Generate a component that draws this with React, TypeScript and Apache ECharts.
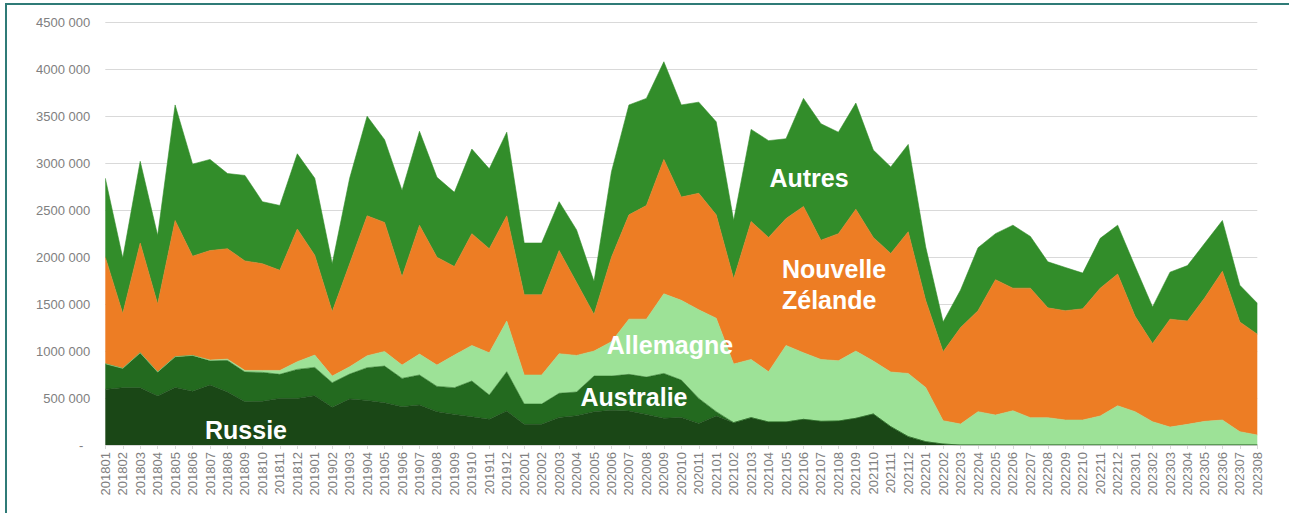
import React, { useEffect, useRef } from "react";
import * as echarts from "echarts";

const months = [
  "201801", "201802", "201803", "201804", "201805", "201806", "201807", "201808", "201809", "201810", "201811", "201812",
  "201901", "201902", "201903", "201904", "201905", "201906", "201907", "201908", "201909", "201910", "201911", "201912",
  "202001", "202002", "202003", "202004", "202005", "202006", "202007", "202008", "202009", "202010", "202011",
  "202101", "202102", "202103", "202104", "202105", "202106", "202107", "202108", "202109", "202110", "202111", "202112",
  "202201", "202202", "202203", "202204", "202205", "202206", "202207", "202208", "202209", "202210", "202211", "202212",
  "202301", "202302", "202303", "202304", "202305", "202306", "202307", "202308",
];

const russie = [
  592000, 610000, 610000, 521000, 613000, 571000, 638000, 564000, 461000, 465000, 496000, 496000,
  525000, 401000, 489000, 475000, 450000, 408000, 426000, 355000, 326000, 301000, 273000, 362000,
  220000, 220000, 294000, 312000, 355000, 369000, 362000, 326000, 284000, 294000, 230000,
  308000, 238000, 291000, 245000, 245000, 273000, 252000, 255000, 284000, 330000, 195000, 89000,
  35000, 10000, 0, 0, 0, 0, 0, 0, 0, 0, 0, 0,
  0, 0, 0, 0, 0, 0, 0, 0,
];

const australie = [
  273000, 206000, 372000, 256000, 327000, 383000, 259000, 336000, 316000, 308000, 256000, 309000,
  301000, 262000, 266000, 348000, 390000, 301000, 319000, 269000, 284000, 380000, 259000, 418000,
  216000, 216000, 256000, 252000, 379000, 365000, 390000, 397000, 478000, 397000, 266000,
  47000, 0, 0, 0, 0, 0, 0, 0, 0, 0, 0, 0,
  0, 0, 0, 0, 0, 0, 0, 0, 0, 0, 0, 0,
  0, 0, 0, 0, 0, 0, 0, 0,
];

const allemagne = [
  0, 0, 0, 0, 0, 0, 7000, 14000, 17000, 21000, 42000, 82000,
  131000, 71000, 78000, 127000, 156000, 142000, 223000, 227000, 347000, 379000, 450000, 540000,
  309000, 309000, 422000, 390000, 266000, 366000, 588000, 617000, 848000, 849000, 944000,
  995000, 624000, 620000, 535000, 815000, 709000, 659000, 642000, 716000, 564000, 582000, 673000,
  578000, 249000, 223000, 355000, 319000, 365000, 291000, 291000, 266000, 266000, 309000, 418000,
  355000, 248000, 191000, 220000, 252000, 266000, 142000, 106000,
];

const nouvelleZelande = [
  1135000, 584000, 1168000, 723000, 1450000, 1056000, 1166000, 1176000, 1166000, 1136000, 1066000, 1413000,
  1063000, 686000, 1097000, 1490000, 1374000, 939000, 1372000, 1149000, 943000, 1190000, 1108000, 1120000,
  855000, 855000, 1098000, 776000, 390000, 900000, 1110000, 1210000, 1430000, 1100000, 1240000,
  1100000, 908000, 1469000, 1430000, 1350000, 1558000, 1269000, 1353000, 1510000, 1316000, 1263000, 1508000,
  927000, 734000, 1027000, 1075000, 1441000, 1305000, 1379000, 1169000, 1164000, 1184000, 1361000, 1402000,
  1015000, 832000, 1149000, 1100000, 1318000, 1584000, 1168000, 1074000,
];

const autres = [
  840000, 590000, 870000, 730000, 1230000, 980000, 970000, 800000, 910000, 660000, 690000, 800000,
  820000, 510000, 910000, 1060000, 880000, 920000, 1000000, 850000, 790000, 900000, 850000, 890000,
  550000, 550000, 520000, 560000, 350000, 910000, 1170000, 1140000, 1040000, 980000, 970000,
  990000, 620000, 980000, 1030000, 850000, 1150000, 1240000, 1080000, 1130000, 930000, 920000, 930000,
  570000, 317000, 400000, 670000, 490000, 670000, 550000, 490000, 460000, 380000, 530000, 520000,
  530000, 390000, 500000, 590000, 580000, 540000, 390000, 330000,
];

const seriesNames = ["Russie", "Australie", "Allemagne", "Nouvelle Zélande", "Autres"];
const seriesColors = ["#1a4716", "#236a1f", "#9de297", "#ed7d24", "#328d2a"];
const seriesData = [russie, australie, allemagne, nouvelleZelande, autres];

const FONT = "'Liberation Sans', Arial, sans-serif";

export default function App() {
  const ref = useRef<HTMLDivElement>(null);

  useEffect(() => {
    const chart = echarts.init(ref.current!, null, { renderer: "svg" });
    const labelStyle = (text: string, x: number, y: number, align = "center") => ({
      type: "text",
      x,
      y,
      silent: true,
      z: 100,
      style: {
        text,
        fill: "#ffffff",
        font: `bold 25px ${FONT}`,
        textAlign: align,
        textVerticalAlign: "middle",
        lineHeight: 31,
      },
    });
    chart.setOption({
      animation: false,
      grid: { left: 105.3, right: 31.7, top: 22.3, bottom: 68, containLabel: false },
      xAxis: {
        type: "category",
        data: months,
        boundaryGap: false,
        axisLine: { show: true, lineStyle: { color: "#d9d9d9", width: 1 } },
        axisTick: { show: true, length: 4, lineStyle: { color: "#d9d9d9" } },
        axisLabel: {
          rotate: 90,
          interval: 0,
          color: "#808080",
          fontSize: 13,
          fontFamily: FONT,
          margin: 7,
        },
        splitLine: { show: false },
      },
      yAxis: {
        type: "value",
        min: 0,
        max: 4500000,
        interval: 500000,
        axisLine: { show: false },
        axisTick: { show: false },
        splitLine: { lineStyle: { color: "#d9d9d9", width: 1 } },
        axisLabel: {
          color: "#808080",
          fontSize: 13,
          fontFamily: FONT,
          margin: 15,
          formatter: (v: number) => (v === 0 ? "{z|-}" : `${v / 1000} 000`),
          rich: {
            z: { color: "#808080", fontSize: 13, fontFamily: FONT, padding: [0, 7, 0, 0] },
          },
        },
      },
      series: seriesNames.map((name, i) => ({
        name,
        type: "line",
        stack: "total",
        data: seriesData[i],
        symbol: "none",
        showSymbol: false,
        lineStyle: { width: 0.6, color: seriesColors[i] },
        itemStyle: { color: seriesColors[i] },
        areaStyle: { color: seriesColors[i], opacity: 1 },
        emphasis: { disabled: true },
        z: 2,
      })),
      graphic: [
        labelStyle("Russie", 246, 430),
        labelStyle("Australie", 634, 397),
        labelStyle("Allemagne", 670, 345),
        labelStyle("Autres", 809, 178),
        labelStyle("Nouvelle\nZélande", 782, 284, "left"),
      ],
    });
    return () => chart.dispose();
  }, []);

  return (
    <div
      style={{
        position: "absolute",
        left: 0,
        top: 0,
        width: 1289,
        height: 513,
        overflow: "hidden",
        background: "#ffffff",
      }}
    >
      <div
        style={{
          position: "absolute",
          left: 5,
          top: 3,
          width: 1400,
          height: 700,
          borderLeft: "2px solid #2f7b77",
          borderTop: "2px solid #2f7b77",
        }}
      />
      <div ref={ref} style={{ position: "absolute", left: 0, top: 0, width: 1289, height: 513 }} />
    </div>
  );
}
